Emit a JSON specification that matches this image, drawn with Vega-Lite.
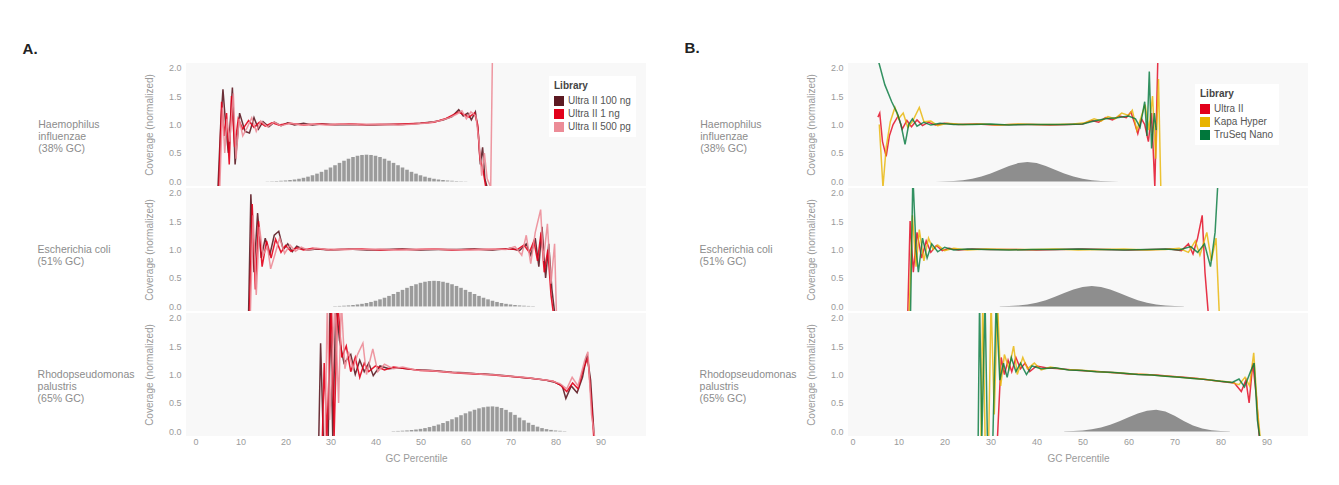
{
"$schema":"https://vega.github.io/schema/vega-lite/v6.json",
"background":"white",
"padding":{"left":22,"top":41,"right":5,"bottom":5},
"config":{
 "font":"Liberation Sans",
 "view":{"stroke":null,"fill":"#f8f8f8"},
 "axis":{"domain":false,"ticks":false,"grid":false,"labelColor":"#9a9a9a","titleColor":"#9a9a9a","labelFontSize":9,"titleFontSize":10,"titleFontWeight":"normal"},
 "axisY":{"titlePadding":14,"labelPadding":5},
 "axisX":{"titlePadding":7,"labelPadding":1},
 "legend":{"fillColor":"white","padding":5,"symbolType":"square","symbolSize":100,"symbolStrokeWidth":0,"symbolOpacity":1,"labelFontSize":10,"titleFontSize":10,"rowPadding":3,"labelColor":"#555","titleColor":"#444","titlePadding":5}
},
"hconcat":[
{
 "title":{"text":"A.","anchor":"start","fontSize":15,"fontWeight":"bold","color":"#222","dx":-15,"offset":6},
 "data":{"values":[
{"o":1,"l":"h","x":16,"y":0.003},{"o":1,"l":"h","x":17,"y":0.005},{"o":1,"l":"h","x":18,"y":0.008},{"o":1,"l":"h","x":19,"y":0.012},{"o":1,"l":"h","x":20,"y":0.017},{"o":1,"l":"h","x":21,"y":0.025},{"o":1,"l":"h","x":22,"y":0.034},{"o":1,"l":"h","x":23,"y":0.047},{"o":1,"l":"h","x":24,"y":0.064},{"o":1,"l":"h","x":25,"y":0.084},{"o":1,"l":"h","x":26,"y":0.108},{"o":1,"l":"h","x":27,"y":0.137},{"o":1,"l":"h","x":28,"y":0.169},{"o":1,"l":"h","x":29,"y":0.206},{"o":1,"l":"h","x":30,"y":0.245},{"o":1,"l":"h","x":31,"y":0.285},{"o":1,"l":"h","x":32,"y":0.326},{"o":1,"l":"h","x":33,"y":0.364},{"o":1,"l":"h","x":34,"y":0.399},{"o":1,"l":"h","x":35,"y":0.429},{"o":1,"l":"h","x":36,"y":0.451},{"o":1,"l":"h","x":37,"y":0.465},{"o":1,"l":"h","x":38,"y":0.47},{"o":1,"l":"h","x":39,"y":0.465},{"o":1,"l":"h","x":40,"y":0.451},{"o":1,"l":"h","x":41,"y":0.429},{"o":1,"l":"h","x":42,"y":0.399},{"o":1,"l":"h","x":43,"y":0.364},{"o":1,"l":"h","x":44,"y":0.326},{"o":1,"l":"h","x":45,"y":0.285},{"o":1,"l":"h","x":46,"y":0.245},{"o":1,"l":"h","x":47,"y":0.206},{"o":1,"l":"h","x":48,"y":0.169},{"o":1,"l":"h","x":49,"y":0.137},{"o":1,"l":"h","x":50,"y":0.108},{"o":1,"l":"h","x":51,"y":0.084},{"o":1,"l":"h","x":52,"y":0.064},{"o":1,"l":"h","x":53,"y":0.047},{"o":1,"l":"h","x":54,"y":0.034},{"o":1,"l":"h","x":55,"y":0.025},{"o":1,"l":"h","x":56,"y":0.017},{"o":1,"l":"h","x":57,"y":0.012},{"o":1,"l":"h","x":58,"y":0.008},{"o":1,"l":"h","x":59,"y":0.005},{"o":1,"l":"h","x":60,"y":0.003},
{"o":2,"l":"h","x":31,"y":0.006},{"o":2,"l":"h","x":32,"y":0.009},{"o":2,"l":"h","x":33,"y":0.013},{"o":2,"l":"h","x":34,"y":0.018},{"o":2,"l":"h","x":35,"y":0.025},{"o":2,"l":"h","x":36,"y":0.035},{"o":2,"l":"h","x":37,"y":0.046},{"o":2,"l":"h","x":38,"y":0.061},{"o":2,"l":"h","x":39,"y":0.079},{"o":2,"l":"h","x":40,"y":0.1},{"o":2,"l":"h","x":41,"y":0.125},{"o":2,"l":"h","x":42,"y":0.153},{"o":2,"l":"h","x":43,"y":0.185},{"o":2,"l":"h","x":44,"y":0.219},{"o":2,"l":"h","x":45,"y":0.255},{"o":2,"l":"h","x":46,"y":0.291},{"o":2,"l":"h","x":47,"y":0.327},{"o":2,"l":"h","x":48,"y":0.36},{"o":2,"l":"h","x":49,"y":0.39},{"o":2,"l":"h","x":50,"y":0.415},{"o":2,"l":"h","x":51,"y":0.434},{"o":2,"l":"h","x":52,"y":0.446},{"o":2,"l":"h","x":53,"y":0.45},{"o":2,"l":"h","x":54,"y":0.446},{"o":2,"l":"h","x":55,"y":0.434},{"o":2,"l":"h","x":56,"y":0.415},{"o":2,"l":"h","x":57,"y":0.39},{"o":2,"l":"h","x":58,"y":0.36},{"o":2,"l":"h","x":59,"y":0.327},{"o":2,"l":"h","x":60,"y":0.291},{"o":2,"l":"h","x":61,"y":0.255},{"o":2,"l":"h","x":62,"y":0.219},{"o":2,"l":"h","x":63,"y":0.185},{"o":2,"l":"h","x":64,"y":0.153},{"o":2,"l":"h","x":65,"y":0.125},{"o":2,"l":"h","x":66,"y":0.1},{"o":2,"l":"h","x":67,"y":0.079},{"o":2,"l":"h","x":68,"y":0.061},{"o":2,"l":"h","x":69,"y":0.046},{"o":2,"l":"h","x":70,"y":0.035},{"o":2,"l":"h","x":71,"y":0.025},{"o":2,"l":"h","x":72,"y":0.018},{"o":2,"l":"h","x":73,"y":0.013},{"o":2,"l":"h","x":74,"y":0.009},{"o":2,"l":"h","x":75,"y":0.006},
{"o":3,"l":"h","x":44,"y":0.006},{"o":3,"l":"h","x":45,"y":0.009},{"o":3,"l":"h","x":46,"y":0.013},{"o":3,"l":"h","x":47,"y":0.018},{"o":3,"l":"h","x":48,"y":0.025},{"o":3,"l":"h","x":49,"y":0.034},{"o":3,"l":"h","x":50,"y":0.045},{"o":3,"l":"h","x":51,"y":0.059},{"o":3,"l":"h","x":52,"y":0.077},{"o":3,"l":"h","x":53,"y":0.098},{"o":3,"l":"h","x":54,"y":0.122},{"o":3,"l":"h","x":55,"y":0.15},{"o":3,"l":"h","x":56,"y":0.181},{"o":3,"l":"h","x":57,"y":0.214},{"o":3,"l":"h","x":58,"y":0.249},{"o":3,"l":"h","x":59,"y":0.285},{"o":3,"l":"h","x":60,"y":0.319},{"o":3,"l":"h","x":61,"y":0.352},{"o":3,"l":"h","x":62,"y":0.381},{"o":3,"l":"h","x":63,"y":0.406},{"o":3,"l":"h","x":64,"y":0.425},{"o":3,"l":"h","x":65,"y":0.436},{"o":3,"l":"h","x":66,"y":0.44},{"o":3,"l":"h","x":67,"y":0.433},{"o":3,"l":"h","x":68,"y":0.412},{"o":3,"l":"h","x":69,"y":0.379},{"o":3,"l":"h","x":70,"y":0.338},{"o":3,"l":"h","x":71,"y":0.291},{"o":3,"l":"h","x":72,"y":0.243},{"o":3,"l":"h","x":73,"y":0.196},{"o":3,"l":"h","x":74,"y":0.153},{"o":3,"l":"h","x":75,"y":0.115},{"o":3,"l":"h","x":76,"y":0.084},{"o":3,"l":"h","x":77,"y":0.059},{"o":3,"l":"h","x":78,"y":0.041},{"o":3,"l":"h","x":79,"y":0.027},{"o":3,"l":"h","x":80,"y":0.017},{"o":3,"l":"h","x":81,"y":0.011},{"o":3,"l":"h","x":82,"y":0.006},
{"o":1,"l":"a","x":5,"y":-0.1},{"o":1,"l":"a","x":5.6,"y":1.0},{"o":1,"l":"a","x":6.1,"y":1.62},{"o":1,"l":"a","x":6.8,"y":0.9},{"o":1,"l":"a","x":7.3,"y":0.5},{"o":1,"l":"a","x":8.2,"y":1.65},{"o":1,"l":"a","x":8.8,"y":0.3},{"o":1,"l":"a","x":9.8,"y":1.2},{"o":1,"l":"a","x":11,"y":0.88},{"o":1,"l":"a","x":12,"y":0.85},{"o":1,"l":"a","x":13,"y":1.12},{"o":1,"l":"a","x":14,"y":0.92},{"o":1,"l":"a","x":15,"y":1.05},{"o":1,"l":"a","x":16.3,"y":0.96},{"o":1,"l":"a","x":17.5,"y":1.04},{"o":1,"l":"a","x":19,"y":0.98},{"o":1,"l":"a","x":20.5,"y":1.03},{"o":1,"l":"a","x":22,"y":0.99},{"o":1,"l":"a","x":24,"y":1.02},{"o":1,"l":"a","x":26,"y":0.99},{"o":1,"l":"a","x":28,"y":1.01},{"o":1,"l":"a","x":31,"y":0.995},{"o":1,"l":"a","x":34,"y":1.0},{"o":1,"l":"a","x":38,"y":0.99},{"o":1,"l":"a","x":42,"y":1.0},{"o":1,"l":"a","x":46,"y":1.0},{"o":1,"l":"a","x":50,"y":1.02},{"o":1,"l":"a","x":53,"y":1.05},{"o":1,"l":"a","x":55,"y":1.08},{"o":1,"l":"a","x":57,"y":1.14},{"o":1,"l":"a","x":58.5,"y":1.26},{"o":1,"l":"a","x":59.5,"y":1.15},{"o":1,"l":"a","x":60.5,"y":1.2},{"o":1,"l":"a","x":61.3,"y":1.08},{"o":1,"l":"a","x":62.2,"y":1.22},{"o":1,"l":"a","x":62.8,"y":0.9},{"o":1,"l":"a","x":63.3,"y":0.3},{"o":1,"l":"a","x":63.8,"y":0.6},{"o":1,"l":"a","x":64.3,"y":0.05},{"o":1,"l":"a","x":64.8,"y":-0.1},
{"o":1,"l":"b","x":5.2,"y":-0.1},{"o":1,"l":"b","x":5.8,"y":1.4},{"o":1,"l":"b","x":6.4,"y":0.8},{"o":1,"l":"b","x":6.9,"y":1.2},{"o":1,"l":"b","x":7.5,"y":0.3},{"o":1,"l":"b","x":8,"y":1.5},{"o":1,"l":"b","x":8.7,"y":0.6},{"o":1,"l":"b","x":9.5,"y":1.1},{"o":1,"l":"b","x":10.5,"y":0.92},{"o":1,"l":"b","x":11.8,"y":1.07},{"o":1,"l":"b","x":13,"y":0.95},{"o":1,"l":"b","x":14.2,"y":1.04},{"o":1,"l":"b","x":15.5,"y":0.97},{"o":1,"l":"b","x":17,"y":1.03},{"o":1,"l":"b","x":18.5,"y":0.99},{"o":1,"l":"b","x":21,"y":1.02},{"o":1,"l":"b","x":24,"y":0.99},{"o":1,"l":"b","x":27,"y":1.01},{"o":1,"l":"b","x":30,"y":1.0},{"o":1,"l":"b","x":34,"y":1.01},{"o":1,"l":"b","x":38,"y":1.0},{"o":1,"l":"b","x":42,"y":1.0},{"o":1,"l":"b","x":46,"y":1.01},{"o":1,"l":"b","x":50,"y":1.02},{"o":1,"l":"b","x":53,"y":1.04},{"o":1,"l":"b","x":55.5,"y":1.1},{"o":1,"l":"b","x":57,"y":1.16},{"o":1,"l":"b","x":58.5,"y":1.22},{"o":1,"l":"b","x":59.5,"y":1.18},{"o":1,"l":"b","x":60.8,"y":1.13},{"o":1,"l":"b","x":62,"y":1.2},{"o":1,"l":"b","x":62.7,"y":1.0},{"o":1,"l":"b","x":63.2,"y":0.4},{"o":1,"l":"b","x":63.9,"y":0.2},{"o":1,"l":"b","x":64.5,"y":-0.1},
{"o":1,"l":"c","x":5.4,"y":-0.1},{"o":1,"l":"c","x":6,"y":1.3},{"o":1,"l":"c","x":6.5,"y":0.5},{"o":1,"l":"c","x":7,"y":1.1},{"o":1,"l":"c","x":7.6,"y":0.7},{"o":1,"l":"c","x":8.4,"y":1.55},{"o":1,"l":"c","x":9,"y":0.4},{"o":1,"l":"c","x":9.7,"y":1.1},{"o":1,"l":"c","x":10.5,"y":0.8},{"o":1,"l":"c","x":11.5,"y":0.95},{"o":1,"l":"c","x":12.5,"y":1.12},{"o":1,"l":"c","x":13.5,"y":0.88},{"o":1,"l":"c","x":14.5,"y":1.06},{"o":1,"l":"c","x":16,"y":0.96},{"o":1,"l":"c","x":17.5,"y":1.04},{"o":1,"l":"c","x":19,"y":0.98},{"o":1,"l":"c","x":21,"y":1.02},{"o":1,"l":"c","x":23.5,"y":0.99},{"o":1,"l":"c","x":26,"y":1.01},{"o":1,"l":"c","x":29,"y":0.99},{"o":1,"l":"c","x":33,"y":1.01},{"o":1,"l":"c","x":37,"y":0.99},{"o":1,"l":"c","x":41,"y":1.01},{"o":1,"l":"c","x":45,"y":0.99},{"o":1,"l":"c","x":49,"y":1.01},{"o":1,"l":"c","x":52,"y":1.03},{"o":1,"l":"c","x":54.5,"y":1.07},{"o":1,"l":"c","x":56.5,"y":1.12},{"o":1,"l":"c","x":58,"y":1.18},{"o":1,"l":"c","x":59.2,"y":1.24},{"o":1,"l":"c","x":60.2,"y":1.1},{"o":1,"l":"c","x":61.2,"y":1.22},{"o":1,"l":"c","x":62.3,"y":1.15},{"o":1,"l":"c","x":63,"y":0.7},{"o":1,"l":"c","x":63.6,"y":0.1},{"o":1,"l":"c","x":64.2,"y":0.5},{"o":1,"l":"c","x":64.8,"y":0.05},{"o":1,"l":"c","x":65.6,"y":-0.1},{"o":1,"l":"c","x":66,"y":2.3},
{"o":2,"l":"a","x":11.8,"y":-0.1},{"o":2,"l":"a","x":12.3,"y":1.97},{"o":2,"l":"a","x":13,"y":0.6},{"o":2,"l":"a","x":13.8,"y":1.64},{"o":2,"l":"a","x":14.6,"y":0.85},{"o":2,"l":"a","x":15.5,"y":1.2},{"o":2,"l":"a","x":16.5,"y":0.9},{"o":2,"l":"a","x":17.5,"y":1.25},{"o":2,"l":"a","x":18.5,"y":1.32},{"o":2,"l":"a","x":19.5,"y":1.0},{"o":2,"l":"a","x":20.5,"y":1.1},{"o":2,"l":"a","x":21.5,"y":0.96},{"o":2,"l":"a","x":22.5,"y":1.06},{"o":2,"l":"a","x":23.5,"y":1.02},{"o":2,"l":"a","x":25,"y":0.99},{"o":2,"l":"a","x":27,"y":1.01},{"o":2,"l":"a","x":30,"y":0.99},{"o":2,"l":"a","x":34,"y":1.01},{"o":2,"l":"a","x":38,"y":0.99},{"o":2,"l":"a","x":42,"y":1.0},{"o":2,"l":"a","x":46,"y":1.01},{"o":2,"l":"a","x":50,"y":0.99},{"o":2,"l":"a","x":54,"y":1.0},{"o":2,"l":"a","x":58,"y":1.0},{"o":2,"l":"a","x":62,"y":1.01},{"o":2,"l":"a","x":66,"y":0.99},{"o":2,"l":"a","x":70,"y":1.02},{"o":2,"l":"a","x":72,"y":0.98},{"o":2,"l":"a","x":73.5,"y":1.1},{"o":2,"l":"a","x":74.5,"y":0.9},{"o":2,"l":"a","x":75.5,"y":1.2},{"o":2,"l":"a","x":76.3,"y":0.7},{"o":2,"l":"a","x":77,"y":1.4},{"o":2,"l":"a","x":77.8,"y":0.5},{"o":2,"l":"a","x":78.5,"y":1.1},{"o":2,"l":"a","x":79.2,"y":0.3},{"o":2,"l":"a","x":79.8,"y":-0.1},
{"o":2,"l":"b","x":12,"y":-0.1},{"o":2,"l":"b","x":12.6,"y":1.8},{"o":2,"l":"b","x":13.3,"y":0.3},{"o":2,"l":"b","x":14,"y":1.5},{"o":2,"l":"b","x":14.8,"y":0.7},{"o":2,"l":"b","x":15.8,"y":1.15},{"o":2,"l":"b","x":16.8,"y":0.85},{"o":2,"l":"b","x":17.8,"y":1.18},{"o":2,"l":"b","x":19,"y":0.95},{"o":2,"l":"b","x":20,"y":1.07},{"o":2,"l":"b","x":21.2,"y":0.97},{"o":2,"l":"b","x":22.5,"y":1.03},{"o":2,"l":"b","x":24,"y":0.99},{"o":2,"l":"b","x":26,"y":1.02},{"o":2,"l":"b","x":29,"y":1.0},{"o":2,"l":"b","x":33,"y":1.0},{"o":2,"l":"b","x":37,"y":1.01},{"o":2,"l":"b","x":41,"y":0.99},{"o":2,"l":"b","x":45,"y":1.0},{"o":2,"l":"b","x":49,"y":1.0},{"o":2,"l":"b","x":53,"y":1.01},{"o":2,"l":"b","x":57,"y":0.99},{"o":2,"l":"b","x":61,"y":1.0},{"o":2,"l":"b","x":65,"y":1.0},{"o":2,"l":"b","x":69,"y":1.01},{"o":2,"l":"b","x":71.5,"y":1.0},{"o":2,"l":"b","x":73,"y":1.08},{"o":2,"l":"b","x":74.2,"y":0.95},{"o":2,"l":"b","x":75.2,"y":1.15},{"o":2,"l":"b","x":76,"y":0.8},{"o":2,"l":"b","x":76.8,"y":1.3},{"o":2,"l":"b","x":77.5,"y":0.6},{"o":2,"l":"b","x":78.3,"y":1.0},{"o":2,"l":"b","x":79,"y":0.2},{"o":2,"l":"b","x":79.5,"y":-0.1},
{"o":2,"l":"c","x":12.2,"y":-0.1},{"o":2,"l":"c","x":12.8,"y":1.6},{"o":2,"l":"c","x":13.5,"y":0.2},{"o":2,"l":"c","x":14.2,"y":1.4},{"o":2,"l":"c","x":15,"y":0.9},{"o":2,"l":"c","x":16,"y":1.05},{"o":2,"l":"c","x":16.7,"y":0.66},{"o":2,"l":"c","x":17.6,"y":0.9},{"o":2,"l":"c","x":18.7,"y":1.2},{"o":2,"l":"c","x":19.8,"y":0.93},{"o":2,"l":"c","x":21,"y":1.08},{"o":2,"l":"c","x":22.2,"y":0.97},{"o":2,"l":"c","x":23.5,"y":1.04},{"o":2,"l":"c","x":25,"y":0.99},{"o":2,"l":"c","x":27,"y":1.02},{"o":2,"l":"c","x":30,"y":0.99},{"o":2,"l":"c","x":33,"y":1.01},{"o":2,"l":"c","x":37,"y":1.0},{"o":2,"l":"c","x":41,"y":1.01},{"o":2,"l":"c","x":45,"y":0.99},{"o":2,"l":"c","x":49,"y":1.0},{"o":2,"l":"c","x":53,"y":1.01},{"o":2,"l":"c","x":57,"y":1.0},{"o":2,"l":"c","x":61,"y":0.99},{"o":2,"l":"c","x":65,"y":1.01},{"o":2,"l":"c","x":69,"y":1.0},{"o":2,"l":"c","x":71,"y":1.05},{"o":2,"l":"c","x":72.5,"y":0.9},{"o":2,"l":"c","x":73.5,"y":1.25},{"o":2,"l":"c","x":74.5,"y":0.75},{"o":2,"l":"c","x":75.5,"y":1.3},{"o":2,"l":"c","x":76.7,"y":1.7},{"o":2,"l":"c","x":77.3,"y":0.8},{"o":2,"l":"c","x":78.2,"y":1.45},{"o":2,"l":"c","x":79,"y":0.4},{"o":2,"l":"c","x":79.8,"y":1.1},{"o":2,"l":"c","x":80.2,"y":-0.1},
{"o":3,"l":"a","x":27.4,"y":-0.1},{"o":3,"l":"a","x":27.8,"y":1.55},{"o":3,"l":"a","x":28.4,"y":-0.1},{"o":3,"l":"a","x":29.5,"y":-0.1},{"o":3,"l":"a","x":29.9,"y":2.3},{"o":3,"l":"a","x":30.5,"y":-0.1},{"o":3,"l":"a","x":31.2,"y":2.3},{"o":3,"l":"a","x":32,"y":1.6},{"o":3,"l":"a","x":33,"y":1.2},{"o":3,"l":"a","x":34.5,"y":1.35},{"o":3,"l":"a","x":35.5,"y":1.0},{"o":3,"l":"a","x":36.5,"y":1.25},{"o":3,"l":"a","x":37.5,"y":1.05},{"o":3,"l":"a","x":38.5,"y":1.2},{"o":3,"l":"a","x":39.5,"y":0.98},{"o":3,"l":"a","x":41,"y":1.15},{"o":3,"l":"a","x":43,"y":1.1},{"o":3,"l":"a","x":45,"y":1.12},{"o":3,"l":"a","x":48,"y":1.09},{"o":3,"l":"a","x":51,"y":1.08},{"o":3,"l":"a","x":54,"y":1.06},{"o":3,"l":"a","x":57,"y":1.04},{"o":3,"l":"a","x":60,"y":1.03},{"o":3,"l":"a","x":63,"y":1.01},{"o":3,"l":"a","x":66,"y":1.0},{"o":3,"l":"a","x":69,"y":0.98},{"o":3,"l":"a","x":72,"y":0.95},{"o":3,"l":"a","x":75,"y":0.93},{"o":3,"l":"a","x":78,"y":0.9},{"o":3,"l":"a","x":80,"y":0.86},{"o":3,"l":"a","x":81.5,"y":0.8},{"o":3,"l":"a","x":82.3,"y":0.58},{"o":3,"l":"a","x":83.5,"y":0.8},{"o":3,"l":"a","x":84.8,"y":0.68},{"o":3,"l":"a","x":86,"y":0.95},{"o":3,"l":"a","x":87,"y":1.35},{"o":3,"l":"a","x":87.8,"y":0.9},{"o":3,"l":"a","x":88.6,"y":-0.1},
{"o":3,"l":"b","x":28.2,"y":-0.1},{"o":3,"l":"b","x":28.6,"y":1.2},{"o":3,"l":"b","x":29.2,"y":-0.1},{"o":3,"l":"b","x":30.2,"y":2.3},{"o":3,"l":"b","x":30.8,"y":-0.1},{"o":3,"l":"b","x":31.6,"y":2.3},{"o":3,"l":"b","x":32.5,"y":1.3},{"o":3,"l":"b","x":33.5,"y":1.5},{"o":3,"l":"b","x":34.5,"y":1.05},{"o":3,"l":"b","x":35.5,"y":1.3},{"o":3,"l":"b","x":36.5,"y":0.95},{"o":3,"l":"b","x":37.5,"y":1.2},{"o":3,"l":"b","x":38.5,"y":1.05},{"o":3,"l":"b","x":40,"y":1.15},{"o":3,"l":"b","x":42,"y":1.08},{"o":3,"l":"b","x":44,"y":1.13},{"o":3,"l":"b","x":47,"y":1.1},{"o":3,"l":"b","x":50,"y":1.07},{"o":3,"l":"b","x":53,"y":1.06},{"o":3,"l":"b","x":56,"y":1.04},{"o":3,"l":"b","x":59,"y":1.02},{"o":3,"l":"b","x":62,"y":1.01},{"o":3,"l":"b","x":65,"y":1.0},{"o":3,"l":"b","x":68,"y":0.98},{"o":3,"l":"b","x":71,"y":0.96},{"o":3,"l":"b","x":74,"y":0.94},{"o":3,"l":"b","x":77,"y":0.91},{"o":3,"l":"b","x":79.5,"y":0.88},{"o":3,"l":"b","x":81,"y":0.82},{"o":3,"l":"b","x":82.5,"y":0.7},{"o":3,"l":"b","x":83.8,"y":0.85},{"o":3,"l":"b","x":85,"y":0.75},{"o":3,"l":"b","x":86.2,"y":1.1},{"o":3,"l":"b","x":87.2,"y":1.3},{"o":3,"l":"b","x":88,"y":0.5},{"o":3,"l":"b","x":88.5,"y":-0.1},
{"o":3,"l":"c","x":28.8,"y":-0.1},{"o":3,"l":"c","x":29.3,"y":2.3},{"o":3,"l":"c","x":29.8,"y":0.2},{"o":3,"l":"c","x":31,"y":2.3},{"o":3,"l":"c","x":31.8,"y":0.5},{"o":3,"l":"c","x":32.4,"y":2.3},{"o":3,"l":"c","x":33.2,"y":1.1},{"o":3,"l":"c","x":34,"y":1.4},{"o":3,"l":"c","x":35,"y":1.1},{"o":3,"l":"c","x":36,"y":1.35},{"o":3,"l":"c","x":37.2,"y":1.55},{"o":3,"l":"c","x":38,"y":1.0},{"o":3,"l":"c","x":39.4,"y":1.45},{"o":3,"l":"c","x":40.5,"y":1.05},{"o":3,"l":"c","x":42,"y":1.18},{"o":3,"l":"c","x":44,"y":1.1},{"o":3,"l":"c","x":46,"y":1.13},{"o":3,"l":"c","x":49,"y":1.08},{"o":3,"l":"c","x":52,"y":1.07},{"o":3,"l":"c","x":55,"y":1.05},{"o":3,"l":"c","x":58,"y":1.03},{"o":3,"l":"c","x":61,"y":1.02},{"o":3,"l":"c","x":64,"y":1.0},{"o":3,"l":"c","x":67,"y":0.99},{"o":3,"l":"c","x":70,"y":0.97},{"o":3,"l":"c","x":73,"y":0.95},{"o":3,"l":"c","x":76,"y":0.92},{"o":3,"l":"c","x":79,"y":0.89},{"o":3,"l":"c","x":81,"y":0.84},{"o":3,"l":"c","x":82.5,"y":0.75},{"o":3,"l":"c","x":83.7,"y":0.95},{"o":3,"l":"c","x":85,"y":0.8},{"o":3,"l":"c","x":86.5,"y":1.25},{"o":3,"l":"c","x":87.2,"y":1.4},{"o":3,"l":"c","x":88,"y":0.3},{"o":3,"l":"c","x":88.7,"y":-0.1}
 ]},
 "facet":{"row":{"field":"o","type":"nominal","title":null,"header":{"labelExpr":"datum.value==1?['Haemophilus\u00a0\u2800\u2800\u2800\u2800','influenzae','(38% GC)']:datum.value==2?['Escherichia coli\u2800\u2800\u2800','(51% GC)']:['Rhodopseudomonas','palustris','(65% GC)']","labelAngle":0,"labelAlign":"left","labelOrient":"left","labelBaseline":"middle","labelFontSize":10.5,"labelColor":"#8c8c8c","labelLineHeight":12,"labelPadding":10}}},
 "spacing":2,
 "spec":{
  "width":460,"height":123,
  "encoding":{
   "x":{"field":"x","type":"quantitative","title":"GC Percentile","scale":{"domain":[-1,99],"nice":false,"zero":false},"axis":{"values":[0,10,20,30,40,50,60,70,80,90]}},
   "y":{"field":"y","type":"quantitative","title":"Coverage (normalized)","scale":{"domain":[-0.08,2.08],"nice":false,"zero":false},"axis":{"values":[0,0.5,1,1.5,2],"format":".1f"}}
  },
  "layer":[
   {"transform":[{"filter":"datum.l=='h'"}],"mark":{"type":"bar","width":3.6,"color":"#9b9b9b"}},
   {"transform":[{"aggregate":[{"op":"count","as":"n"}],"groupby":["o"]}],"mark":{"type":"rule","color":"#cccccc","strokeWidth":1.5},"encoding":{"x":{"datum":-1},"x2":{"datum":99},"y":{"datum":1}}},
   {"transform":[{"filter":"datum.l!='h'"}],"mark":{"type":"line","strokeWidth":1.5,"clip":true,"opacity":0.9},
    "encoding":{"color":{"field":"l","type":"nominal","scale":{"range":["#5c1a22","#e2001a","#ec8c97"]},"legend":null}}},
   {"transform":[{"filter":"datum.x < -50"}],"mark":{"type":"point","shape":"square","filled":true},
    "encoding":{"fill":{"field":"l","type":"nominal","scale":{"domain":["a","b","c"],"range":["#5c1a22","#e2001a","#ec8c97"]},"legend":{"title":"Library","orient":"none","legendX":363,"legendY":13,"symbolOpacity":1,"labelExpr":"datum.value=='a'?'Ultra II 100 ng':datum.value=='b'?'Ultra II 1 ng':'Ultra II 500 pg'"}}}}
  ]
 }
},
{
 "title":{"text":"B.","anchor":"start","fontSize":15,"fontWeight":"bold","color":"#222","dx":-15,"offset":7},
 "data":{"values":[
{"o":1,"l":"h","x":18,"y":0.001},{"o":1,"l":"h","x":20,"y":0.004},{"o":1,"l":"h","x":22,"y":0.01},{"o":1,"l":"h","x":24,"y":0.022},{"o":1,"l":"h","x":26,"y":0.046},{"o":1,"l":"h","x":28,"y":0.085},{"o":1,"l":"h","x":30,"y":0.14},{"o":1,"l":"h","x":32,"y":0.206},{"o":1,"l":"h","x":34,"y":0.272},{"o":1,"l":"h","x":36,"y":0.322},{"o":1,"l":"h","x":38,"y":0.34},{"o":1,"l":"h","x":40,"y":0.322},{"o":1,"l":"h","x":42,"y":0.272},{"o":1,"l":"h","x":44,"y":0.206},{"o":1,"l":"h","x":46,"y":0.14},{"o":1,"l":"h","x":48,"y":0.085},{"o":1,"l":"h","x":50,"y":0.046},{"o":1,"l":"h","x":52,"y":0.022},{"o":1,"l":"h","x":54,"y":0.01},{"o":1,"l":"h","x":56,"y":0.004},{"o":1,"l":"h","x":58,"y":0.001},
{"o":2,"l":"h","x":32,"y":0.003},{"o":2,"l":"h","x":34,"y":0.008},{"o":2,"l":"h","x":36,"y":0.017},{"o":2,"l":"h","x":38,"y":0.035},{"o":2,"l":"h","x":40,"y":0.066},{"o":2,"l":"h","x":42,"y":0.11},{"o":2,"l":"h","x":44,"y":0.169},{"o":2,"l":"h","x":46,"y":0.235},{"o":2,"l":"h","x":48,"y":0.298},{"o":2,"l":"h","x":50,"y":0.343},{"o":2,"l":"h","x":52,"y":0.36},{"o":2,"l":"h","x":54,"y":0.343},{"o":2,"l":"h","x":56,"y":0.298},{"o":2,"l":"h","x":58,"y":0.235},{"o":2,"l":"h","x":60,"y":0.169},{"o":2,"l":"h","x":62,"y":0.11},{"o":2,"l":"h","x":64,"y":0.066},{"o":2,"l":"h","x":66,"y":0.035},{"o":2,"l":"h","x":68,"y":0.017},{"o":2,"l":"h","x":70,"y":0.008},{"o":2,"l":"h","x":72,"y":0.003},
{"o":3,"l":"h","x":46,"y":0.003},{"o":3,"l":"h","x":48,"y":0.008},{"o":3,"l":"h","x":50,"y":0.018},{"o":3,"l":"h","x":52,"y":0.037},{"o":3,"l":"h","x":54,"y":0.069},{"o":3,"l":"h","x":56,"y":0.116},{"o":3,"l":"h","x":58,"y":0.178},{"o":3,"l":"h","x":60,"y":0.248},{"o":3,"l":"h","x":62,"y":0.314},{"o":3,"l":"h","x":64,"y":0.362},{"o":3,"l":"h","x":66,"y":0.38},{"o":3,"l":"h","x":68,"y":0.351},{"o":3,"l":"h","x":70,"y":0.276},{"o":3,"l":"h","x":72,"y":0.185},{"o":3,"l":"h","x":74,"y":0.106},{"o":3,"l":"h","x":76,"y":0.051},{"o":3,"l":"h","x":78,"y":0.021},{"o":3,"l":"h","x":80,"y":0.008},{"o":3,"l":"h","x":82,"y":0.002},
{"o":1,"l":"u","x":5.5,"y":1.13},{"o":1,"l":"u","x":5.9,"y":1.2},{"o":1,"l":"u","x":6.5,"y":0.7},{"o":1,"l":"u","x":7.3,"y":0.44},{"o":1,"l":"u","x":8,"y":0.8},{"o":1,"l":"u","x":8.8,"y":1.0},{"o":1,"l":"u","x":9.9,"y":1.15},{"o":1,"l":"u","x":10.8,"y":0.92},{"o":1,"l":"u","x":11.8,"y":1.07},{"o":1,"l":"u","x":12.8,"y":0.96},{"o":1,"l":"u","x":14,"y":1.08},{"o":1,"l":"u","x":15.2,"y":0.98},{"o":1,"l":"u","x":16.5,"y":1.04},{"o":1,"l":"u","x":18,"y":0.99},{"o":1,"l":"u","x":20,"y":1.02},{"o":1,"l":"u","x":23,"y":1.0},{"o":1,"l":"u","x":27,"y":1.01},{"o":1,"l":"u","x":31,"y":0.99},{"o":1,"l":"u","x":35,"y":1.0},{"o":1,"l":"u","x":39,"y":1.0},{"o":1,"l":"u","x":43,"y":0.99},{"o":1,"l":"u","x":47,"y":1.0},{"o":1,"l":"u","x":50,"y":1.01},{"o":1,"l":"u","x":52,"y":1.07},{"o":1,"l":"u","x":53.5,"y":1.04},{"o":1,"l":"u","x":55,"y":1.12},{"o":1,"l":"u","x":56.5,"y":1.08},{"o":1,"l":"u","x":58,"y":1.15},{"o":1,"l":"u","x":59.5,"y":1.12},{"o":1,"l":"u","x":60.5,"y":1.22},{"o":1,"l":"u","x":61.2,"y":1.05},{"o":1,"l":"u","x":62,"y":0.84},{"o":1,"l":"u","x":62.8,"y":1.1},{"o":1,"l":"u","x":63.5,"y":1.0},{"o":1,"l":"u","x":64.3,"y":0.7},{"o":1,"l":"u","x":65,"y":1.2},{"o":1,"l":"u","x":65.7,"y":-0.1},{"o":1,"l":"u","x":66.4,"y":2.3},
{"o":1,"l":"k","x":5.8,"y":1.0},{"o":1,"l":"k","x":6.6,"y":-0.1},{"o":1,"l":"k","x":7.3,"y":0.6},{"o":1,"l":"k","x":8.2,"y":1.05},{"o":1,"l":"k","x":9.2,"y":1.3},{"o":1,"l":"k","x":10,"y":1.1},{"o":1,"l":"k","x":11,"y":1.2},{"o":1,"l":"k","x":12,"y":0.95},{"o":1,"l":"k","x":13,"y":1.05},{"o":1,"l":"k","x":14.5,"y":1.3},{"o":1,"l":"k","x":15.5,"y":1.05},{"o":1,"l":"k","x":17,"y":1.06},{"o":1,"l":"k","x":18.5,"y":0.98},{"o":1,"l":"k","x":20.5,"y":1.02},{"o":1,"l":"k","x":24,"y":1.0},{"o":1,"l":"k","x":28,"y":1.01},{"o":1,"l":"k","x":32,"y":0.99},{"o":1,"l":"k","x":36,"y":1.01},{"o":1,"l":"k","x":40,"y":1.0},{"o":1,"l":"k","x":44,"y":1.0},{"o":1,"l":"k","x":48,"y":1.01},{"o":1,"l":"k","x":50.5,"y":1.03},{"o":1,"l":"k","x":52.5,"y":1.1},{"o":1,"l":"k","x":54,"y":1.06},{"o":1,"l":"k","x":55.5,"y":1.14},{"o":1,"l":"k","x":57,"y":1.1},{"o":1,"l":"k","x":58.5,"y":1.2},{"o":1,"l":"k","x":60,"y":1.16},{"o":1,"l":"k","x":60.8,"y":1.25},{"o":1,"l":"k","x":61.8,"y":0.9},{"o":1,"l":"k","x":62.8,"y":1.15},{"o":1,"l":"k","x":63.6,"y":1.35},{"o":1,"l":"k","x":64.4,"y":0.9},{"o":1,"l":"k","x":65.2,"y":1.5},{"o":1,"l":"k","x":65.9,"y":0.4},{"o":1,"l":"k","x":66.5,"y":1.8},{"o":1,"l":"k","x":67,"y":-0.1},
{"o":1,"l":"t","x":5.5,"y":2.15},{"o":1,"l":"t","x":7,"y":1.7},{"o":1,"l":"t","x":8.5,"y":1.4},{"o":1,"l":"t","x":9.7,"y":1.2},{"o":1,"l":"t","x":10.5,"y":1.0},{"o":1,"l":"t","x":11.4,"y":0.65},{"o":1,"l":"t","x":12.2,"y":1.0},{"o":1,"l":"t","x":13,"y":1.1},{"o":1,"l":"t","x":14,"y":0.97},{"o":1,"l":"t","x":15.5,"y":1.04},{"o":1,"l":"t","x":17,"y":0.99},{"o":1,"l":"t","x":19,"y":1.02},{"o":1,"l":"t","x":22,"y":1.0},{"o":1,"l":"t","x":26,"y":1.0},{"o":1,"l":"t","x":30,"y":1.01},{"o":1,"l":"t","x":34,"y":0.99},{"o":1,"l":"t","x":38,"y":1.0},{"o":1,"l":"t","x":42,"y":1.0},{"o":1,"l":"t","x":46,"y":1.0},{"o":1,"l":"t","x":50,"y":1.01},{"o":1,"l":"t","x":52.5,"y":1.06},{"o":1,"l":"t","x":55,"y":1.1},{"o":1,"l":"t","x":57.5,"y":1.12},{"o":1,"l":"t","x":60,"y":1.15},{"o":1,"l":"t","x":61.5,"y":1.1},{"o":1,"l":"t","x":62.5,"y":0.95},{"o":1,"l":"t","x":63.5,"y":1.4},{"o":1,"l":"t","x":64,"y":0.8},{"o":1,"l":"t","x":64.5,"y":1.93},{"o":1,"l":"t","x":65,"y":0.58},{"o":1,"l":"t","x":65.6,"y":1.2},{"o":1,"l":"t","x":66,"y":0.9},
{"o":2,"l":"u","x":12,"y":-0.1},{"o":2,"l":"u","x":12.5,"y":1.5},{"o":2,"l":"u","x":13.2,"y":0.6},{"o":2,"l":"u","x":14,"y":1.3},{"o":2,"l":"u","x":15,"y":0.85},{"o":2,"l":"u","x":16,"y":1.15},{"o":2,"l":"u","x":17,"y":0.95},{"o":2,"l":"u","x":18.2,"y":1.07},{"o":2,"l":"u","x":19.5,"y":0.98},{"o":2,"l":"u","x":21,"y":1.02},{"o":2,"l":"u","x":23,"y":0.99},{"o":2,"l":"u","x":26,"y":1.01},{"o":2,"l":"u","x":30,"y":1.0},{"o":2,"l":"u","x":35,"y":1.0},{"o":2,"l":"u","x":40,"y":0.99},{"o":2,"l":"u","x":45,"y":1.0},{"o":2,"l":"u","x":50,"y":1.01},{"o":2,"l":"u","x":55,"y":1.0},{"o":2,"l":"u","x":60,"y":0.99},{"o":2,"l":"u","x":65,"y":1.0},{"o":2,"l":"u","x":69,"y":1.01},{"o":2,"l":"u","x":71.5,"y":0.98},{"o":2,"l":"u","x":73,"y":1.1},{"o":2,"l":"u","x":74,"y":0.92},{"o":2,"l":"u","x":75,"y":1.2},{"o":2,"l":"u","x":76,"y":1.6},{"o":2,"l":"u","x":76.6,"y":0.6},{"o":2,"l":"u","x":77.3,"y":-0.1},
{"o":2,"l":"k","x":12.3,"y":-0.1},{"o":2,"l":"k","x":13,"y":1.6},{"o":2,"l":"k","x":13.8,"y":0.7},{"o":2,"l":"k","x":14.5,"y":1.35},{"o":2,"l":"k","x":15.5,"y":0.8},{"o":2,"l":"k","x":16.5,"y":1.2},{"o":2,"l":"k","x":17.5,"y":1.0},{"o":2,"l":"k","x":18.5,"y":1.08},{"o":2,"l":"k","x":20,"y":0.98},{"o":2,"l":"k","x":22,"y":1.02},{"o":2,"l":"k","x":25,"y":0.99},{"o":2,"l":"k","x":29,"y":1.01},{"o":2,"l":"k","x":34,"y":1.0},{"o":2,"l":"k","x":39,"y":1.0},{"o":2,"l":"k","x":44,"y":1.01},{"o":2,"l":"k","x":49,"y":0.99},{"o":2,"l":"k","x":54,"y":1.0},{"o":2,"l":"k","x":59,"y":1.01},{"o":2,"l":"k","x":64,"y":0.99},{"o":2,"l":"k","x":68,"y":1.0},{"o":2,"l":"k","x":71,"y":1.02},{"o":2,"l":"k","x":73,"y":0.95},{"o":2,"l":"k","x":74.5,"y":1.15},{"o":2,"l":"k","x":75.5,"y":0.9},{"o":2,"l":"k","x":77,"y":1.3},{"o":2,"l":"k","x":78,"y":0.8},{"o":2,"l":"k","x":79,"y":1.2},{"o":2,"l":"k","x":79.7,"y":-0.1},
{"o":2,"l":"t","x":12.6,"y":-0.1},{"o":2,"l":"t","x":13.1,"y":2.3},{"o":2,"l":"t","x":13.8,"y":1.0},{"o":2,"l":"t","x":14.3,"y":0.6},{"o":2,"l":"t","x":15.2,"y":1.2},{"o":2,"l":"t","x":16.2,"y":0.85},{"o":2,"l":"t","x":17.2,"y":1.1},{"o":2,"l":"t","x":18.5,"y":0.96},{"o":2,"l":"t","x":20,"y":1.04},{"o":2,"l":"t","x":22,"y":0.99},{"o":2,"l":"t","x":25,"y":1.01},{"o":2,"l":"t","x":29,"y":1.0},{"o":2,"l":"t","x":34,"y":0.99},{"o":2,"l":"t","x":39,"y":1.0},{"o":2,"l":"t","x":44,"y":1.0},{"o":2,"l":"t","x":49,"y":1.01},{"o":2,"l":"t","x":54,"y":1.0},{"o":2,"l":"t","x":59,"y":0.99},{"o":2,"l":"t","x":64,"y":1.0},{"o":2,"l":"t","x":68,"y":1.01},{"o":2,"l":"t","x":71,"y":0.99},{"o":2,"l":"t","x":73.5,"y":1.05},{"o":2,"l":"t","x":75,"y":0.95},{"o":2,"l":"t","x":76.5,"y":1.1},{"o":2,"l":"t","x":77.8,"y":0.7},{"o":2,"l":"t","x":78.8,"y":1.3},{"o":2,"l":"t","x":79.5,"y":2.3},
{"o":3,"l":"u","x":31.5,"y":-0.1},{"o":3,"l":"u","x":32.3,"y":1.3},{"o":3,"l":"u","x":33,"y":1.0},{"o":3,"l":"u","x":33.8,"y":1.25},{"o":3,"l":"u","x":34.6,"y":1.05},{"o":3,"l":"u","x":35.5,"y":1.3},{"o":3,"l":"u","x":36.5,"y":1.1},{"o":3,"l":"u","x":37.5,"y":1.2},{"o":3,"l":"u","x":38.5,"y":1.05},{"o":3,"l":"u","x":40,"y":1.15},{"o":3,"l":"u","x":42,"y":1.12},{"o":3,"l":"u","x":45,"y":1.1},{"o":3,"l":"u","x":48,"y":1.08},{"o":3,"l":"u","x":51,"y":1.06},{"o":3,"l":"u","x":54,"y":1.05},{"o":3,"l":"u","x":57,"y":1.03},{"o":3,"l":"u","x":60,"y":1.01},{"o":3,"l":"u","x":63,"y":1.0},{"o":3,"l":"u","x":66,"y":0.99},{"o":3,"l":"u","x":69,"y":0.97},{"o":3,"l":"u","x":72,"y":0.95},{"o":3,"l":"u","x":75,"y":0.93},{"o":3,"l":"u","x":78,"y":0.9},{"o":3,"l":"u","x":81,"y":0.87},{"o":3,"l":"u","x":83,"y":0.85},{"o":3,"l":"u","x":84.5,"y":0.7},{"o":3,"l":"u","x":85.5,"y":0.9},{"o":3,"l":"u","x":86.2,"y":0.5},{"o":3,"l":"u","x":87,"y":1.2},{"o":3,"l":"u","x":87.8,"y":0.6},{"o":3,"l":"u","x":88.4,"y":-0.1},
{"o":3,"l":"k","x":27.9,"y":-0.1},{"o":3,"l":"k","x":28.3,"y":2.3},{"o":3,"l":"k","x":28.8,"y":-0.1},{"o":3,"l":"k","x":29.6,"y":-0.1},{"o":3,"l":"k","x":30.1,"y":2.3},{"o":3,"l":"k","x":30.8,"y":0.3},{"o":3,"l":"k","x":31.5,"y":2.3},{"o":3,"l":"k","x":32.2,"y":0.8},{"o":3,"l":"k","x":33,"y":1.35},{"o":3,"l":"k","x":34,"y":1.1},{"o":3,"l":"k","x":35,"y":1.5},{"o":3,"l":"k","x":35.8,"y":1.0},{"o":3,"l":"k","x":37,"y":1.3},{"o":3,"l":"k","x":38,"y":1.1},{"o":3,"l":"k","x":39.5,"y":1.2},{"o":3,"l":"k","x":41,"y":1.08},{"o":3,"l":"k","x":43,"y":1.13},{"o":3,"l":"k","x":46,"y":1.09},{"o":3,"l":"k","x":49,"y":1.08},{"o":3,"l":"k","x":52,"y":1.06},{"o":3,"l":"k","x":55,"y":1.04},{"o":3,"l":"k","x":58,"y":1.03},{"o":3,"l":"k","x":61,"y":1.01},{"o":3,"l":"k","x":64,"y":1.0},{"o":3,"l":"k","x":67,"y":0.98},{"o":3,"l":"k","x":70,"y":0.96},{"o":3,"l":"k","x":73,"y":0.94},{"o":3,"l":"k","x":76,"y":0.92},{"o":3,"l":"k","x":79,"y":0.89},{"o":3,"l":"k","x":82,"y":0.87},{"o":3,"l":"k","x":84,"y":0.82},{"o":3,"l":"k","x":85.3,"y":0.95},{"o":3,"l":"k","x":86.3,"y":0.8},{"o":3,"l":"k","x":87.2,"y":1.38},{"o":3,"l":"k","x":88,"y":0.4},{"o":3,"l":"k","x":88.6,"y":-0.1},
{"o":3,"l":"t","x":27.3,"y":-0.1},{"o":3,"l":"t","x":27.6,"y":2.3},{"o":3,"l":"t","x":28.1,"y":-0.1},{"o":3,"l":"t","x":28.8,"y":2.3},{"o":3,"l":"t","x":29.3,"y":-0.1},{"o":3,"l":"t","x":30.5,"y":-0.1},{"o":3,"l":"t","x":31.2,"y":2.3},{"o":3,"l":"t","x":32,"y":0.9},{"o":3,"l":"t","x":32.8,"y":1.2},{"o":3,"l":"t","x":33.6,"y":0.95},{"o":3,"l":"t","x":34.5,"y":1.3},{"o":3,"l":"t","x":35.5,"y":1.05},{"o":3,"l":"t","x":36.5,"y":1.2},{"o":3,"l":"t","x":37.8,"y":1.0},{"o":3,"l":"t","x":39,"y":1.15},{"o":3,"l":"t","x":41,"y":1.1},{"o":3,"l":"t","x":44,"y":1.12},{"o":3,"l":"t","x":47,"y":1.08},{"o":3,"l":"t","x":50,"y":1.07},{"o":3,"l":"t","x":53,"y":1.05},{"o":3,"l":"t","x":56,"y":1.04},{"o":3,"l":"t","x":59,"y":1.02},{"o":3,"l":"t","x":62,"y":1.0},{"o":3,"l":"t","x":65,"y":0.99},{"o":3,"l":"t","x":68,"y":0.97},{"o":3,"l":"t","x":71,"y":0.95},{"o":3,"l":"t","x":74,"y":0.93},{"o":3,"l":"t","x":77,"y":0.91},{"o":3,"l":"t","x":80,"y":0.88},{"o":3,"l":"t","x":82.5,"y":0.86},{"o":3,"l":"t","x":84,"y":0.92},{"o":3,"l":"t","x":85.2,"y":0.78},{"o":3,"l":"t","x":86.5,"y":1.05},{"o":3,"l":"t","x":87.3,"y":1.2},{"o":3,"l":"t","x":88,"y":0.2},{"o":3,"l":"t","x":88.5,"y":-0.1}
 ]},
 "facet":{"row":{"field":"o","type":"nominal","title":null,"header":{"labelExpr":"datum.value==1?['Haemophilus\u00a0\u2800\u2800\u2800\u2800','influenzae','(38% GC)']:datum.value==2?['Escherichia coli\u2800\u2800\u2800','(51% GC)']:['Rhodopseudomonas','palustris','(65% GC)']","labelAngle":0,"labelAlign":"left","labelOrient":"left","labelBaseline":"middle","labelFontSize":10.5,"labelColor":"#8c8c8c","labelLineHeight":12,"labelPadding":10}}},
 "spacing":2,
 "spec":{
  "width":460,"height":123,
  "encoding":{
   "x":{"field":"x","type":"quantitative","title":"GC Percentile","scale":{"domain":[-1,99],"nice":false,"zero":false},"axis":{"values":[0,10,20,30,40,50,60,70,80,90]}},
   "y":{"field":"y","type":"quantitative","title":"Coverage (normalized)","scale":{"domain":[-0.08,2.08],"nice":false,"zero":false},"axis":{"values":[0,0.5,1,1.5,2],"format":".1f"}}
  },
  "layer":[
   {"transform":[{"filter":"datum.l=='h'"}],"mark":{"type":"area","color":"#8e8e8e"}},
   {"transform":[{"aggregate":[{"op":"count","as":"n"}],"groupby":["o"]}],"mark":{"type":"rule","color":"#cccccc","strokeWidth":1.5},"encoding":{"x":{"datum":-1},"x2":{"datum":99},"y":{"datum":1}}},
   {"transform":[{"filter":"datum.l!='h'"}],"mark":{"type":"line","strokeWidth":1.5,"clip":true,"opacity":0.8},
    "encoding":{"color":{"field":"l","type":"nominal","scale":{"range":["#e8b400","#00773b","#e2001a"]},"legend":null}}},
   {"transform":[{"filter":"datum.x < -50"}],"mark":{"type":"point","shape":"square","filled":true},
    "encoding":{"fill":{"field":"l","type":"nominal","scale":{"domain":["u","k","t"],"range":["#e2001a","#e8b400","#00773b"]},"legend":{"title":"Library","orient":"none","legendX":347,"legendY":21,"symbolOpacity":1,"labelExpr":"datum.value=='u'?'Ultra II':datum.value=='k'?'Kapa Hyper':'TruSeq Nano'"}}}}
  ]
 }
}
],
"spacing":38,
"resolve":{"scale":{"color":"independent","fill":"independent"},"legend":{"color":"independent","fill":"independent"}}
}
